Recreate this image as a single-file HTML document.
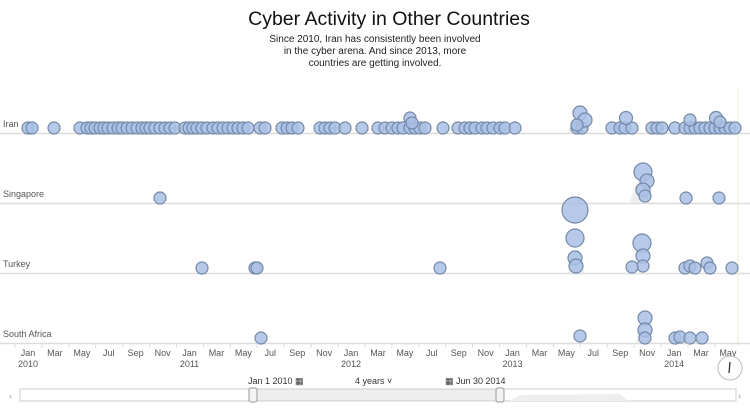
<!DOCTYPE html>
<html><head><meta charset="utf-8"><style>
body{margin:0;background:#fff;width:750px;height:410px;overflow:hidden;font-family:"Liberation Sans",sans-serif}
svg text{font-family:"Liberation Sans",sans-serif}
</style></head><body>
<svg id="s" width="750" height="410" viewBox="0 0 750 410">
<text x="389" y="25" font-size="19.5" text-anchor="middle" fill="#111">Cyber Activity in Other Countries</text>
<text x="375" y="42" font-size="10" text-anchor="middle" fill="#222">Since 2010, Iran has consistently been involved</text>
<text x="375" y="54" font-size="10" text-anchor="middle" fill="#222">in the cyber arena. And since 2013, more</text>
<text x="375" y="66" font-size="10" text-anchor="middle" fill="#222">countries are getting involved.</text>
<line x1="738" y1="88" x2="738" y2="345" stroke="#e4ecc8"/>
<g stroke="#ddd" stroke-width="1.5">
<line x1="0" y1="133.5" x2="750" y2="133.5"/><line x1="0" y1="203.5" x2="750" y2="203.5"/>
<line x1="0" y1="273.5" x2="750" y2="273.5"/><line x1="0" y1="343.5" x2="750" y2="343.5"/>
</g>
<g fill="#eee"><path d="M400 133 Q408 90 416 133Z"/><path d="M568 133 Q577 95 586 133Z"/><path d="M630 203 Q640 160 650 203Z"/><path d="M568 273 Q576 230 584 273Z"/><path d="M636 343 Q643 300 650 343Z"/></g>
<g font-size="9" fill="#555"><text x="3" y="127">Iran</text><text x="3" y="197">Singapore</text><text x="3" y="267">Turkey</text><text x="3" y="337">South Africa</text></g>
<g id="dots" fill="#a9c0e4" fill-opacity="0.85" stroke="#7488a8" stroke-width="1.2"></g>
<g id="ax" font-size="9" fill="#555"></g>
<g font-size="9" fill="#333"><text x="248" y="384">Jan 1 2010 ▦</text><text x="355" y="384">4 years ˅</text><text x="445" y="384">▦ Jun 30 2014</text></g>
<rect x="20" y="389" width="716" height="12" fill="#fff" stroke="#ccc"/>
<rect x="253" y="389" width="246" height="12" fill="#eee" stroke="#ccc"/>
<path d="M510 401 L520 395 L620 394 L628 401Z" fill="#eee"/>
<rect x="249" y="388" width="8" height="14" rx="2" fill="#f3f3f3" stroke="#999"/>
<rect x="496" y="388" width="8" height="14" rx="2" fill="#f3f3f3" stroke="#999"/>
<text x="9" y="399" font-size="9" fill="#999">‹</text><text x="738" y="399" font-size="9" fill="#999">›</text>
<circle cx="730" cy="368" r="12" fill="#fff" stroke="#bbb"/><line x1="730" y1="362" x2="729" y2="373" stroke="#333" stroke-width="1.3"/>
</svg>
<script>
var ns="http://www.w3.org/2000/svg",g=document.getElementById("dots");
function c(x,y,r){var e=document.createElementNS(ns,"circle");e.setAttribute("cx",x);e.setAttribute("cy",y);e.setAttribute("r",r||6);g.appendChild(e);}
[28,32,54,80,87,91,95,100,104,108,113,118,122,127,132,137,142,146,150,155,160,165,170,175,185,189,193,197,202,207,213,218,223,228,233,238,243,248,260,265,282,287,292,298,320,325,330,335,345,362,378,385,392,398,403,410,415,420,425,443,458,465,470,475,482,487,493,500,505,515,577,582,612,620,625,632,652,657,662,675,685,690,695,700,705,710,715,720,725,730,735].forEach(function(x){c(x,128)});
c(410,118);c(412,123);c(580,113,7);c(585,120,7);c(577,125);c(626,118,6.5);c(690,120);c(716,118,6.5);c(720,122);
[[643,172,9],[647,181,7],[643,190,7],[645,196,6],[686,198,6],[719,198,6],[160,198,6]].forEach(function(a){c(a[0],a[1],a[2])});
[[575,210,13],[575,238,9],[575,258,7],[576,266,7],[642,243,9],[643,256,7],[643,266,6],[632,267,6],[202,268,6],[255,268,6],[257,268,6],[440,268,6],[685,268,6],[690,266,6],[695,268,6],[707,263,6],[710,268,6],[732,268,6]].forEach(function(a){c(a[0],a[1],a[2])});
[[261,338,6],[580,336,6],[645,318,7],[645,330,7],[645,338,6],[675,338,6],[680,337,6],[690,338,6],[702,338,6]].forEach(function(a){c(a[0],a[1],a[2])});
var ax=document.getElementById("ax"),m=["Jan","Mar","May","Jul","Sep","Nov"];
for(var i=0;i<=26;i++){var x=28+i*2*13.46;var mo=m[i%6];var t=document.createElementNS(ns,"text");t.setAttribute("x",x);t.setAttribute("y",356);t.setAttribute("text-anchor","middle");t.textContent=mo;ax.appendChild(t);
var l=document.createElementNS(ns,"line");l.setAttribute("x1",x-13);l.setAttribute("x2",x-13);l.setAttribute("y1",343);l.setAttribute("y2",348);l.setAttribute("stroke","#ddd");ax.appendChild(l);
if(i%6==0){var y=document.createElementNS(ns,"text");y.setAttribute("x",x);y.setAttribute("y",367);y.setAttribute("text-anchor","middle");y.textContent=2010+i/6;ax.appendChild(y);}}
</script>
</body></html>
